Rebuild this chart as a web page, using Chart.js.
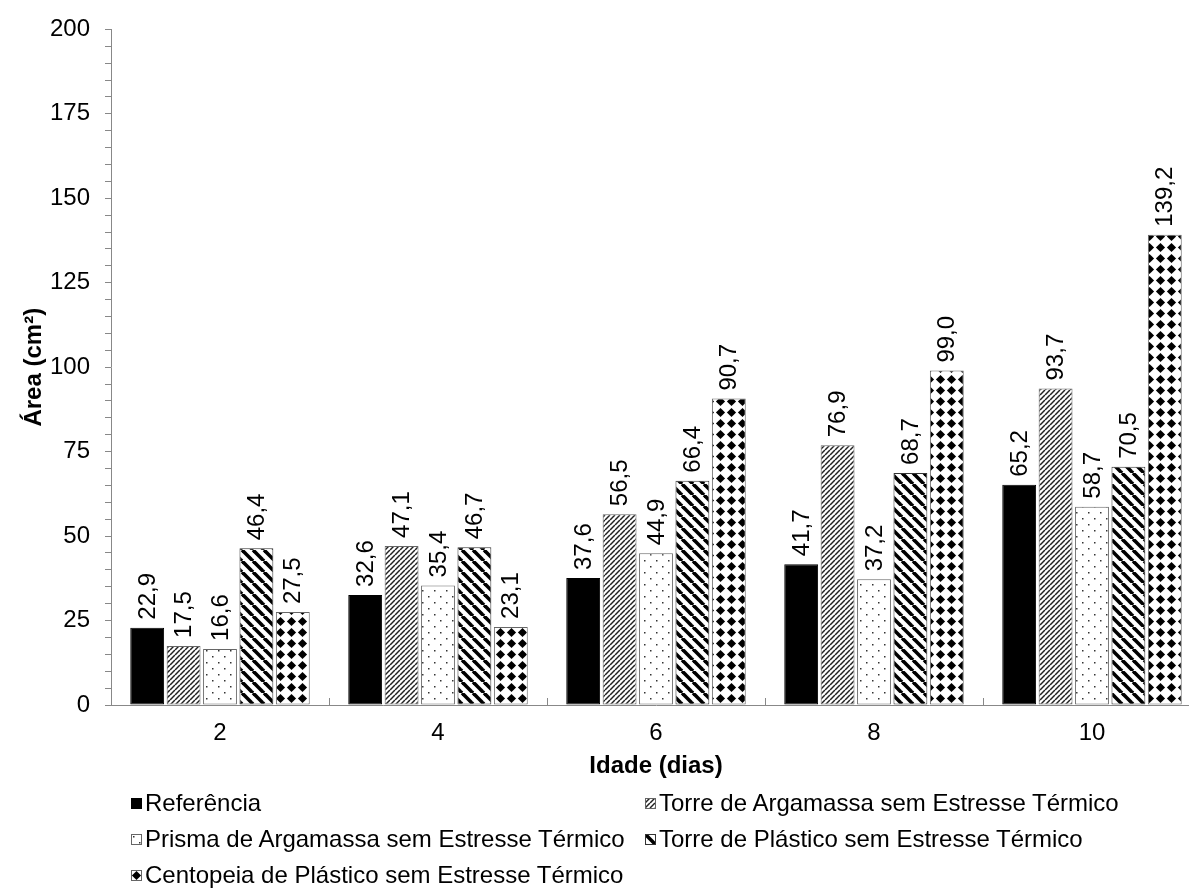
<!DOCTYPE html>
<html lang="pt">
<head>
<meta charset="utf-8">
<title>Área x Idade</title>
<script src="https://cdn.jsdelivr.net/npm/chart.js@4.4.0/dist/chart.umd.min.js"></script>
<style>
  html, body { margin: 0; padding: 0; background: #fff; overflow: hidden; }
  #wrap { position: relative; width: 1189px; height: 890px; overflow: hidden; }
  #areaChart { position: absolute; left: 0; top: 0; }
  #legend {
    position: absolute; left: 131px; top: 785px;
    display: grid; grid-template-columns: 514px auto; grid-auto-rows: 36px;
    font-family: Arial, "Liberation Sans", sans-serif; font-size: 24px; color: #000;
  }
  #legend .item { display: flex; align-items: center; white-space: nowrap; }
  #legend canvas { margin-right: 3px; }
</style>
</head>
<body>
<div id="wrap">
  <canvas id="areaChart" width="1215" height="790"></canvas>
  <div id="legend"></div>
</div>
<script>
// Idade (dias) and the area measured for each specimen
const idades = ['2', '4', '6', '8', '10'];
const seriesNames = [
  'Referência',
  'Torre de Argamassa sem Estresse Térmico',
  'Prisma de Argamassa sem Estresse Térmico',
  'Torre de Plástico sem Estresse Térmico',
  'Centopeia de Plástico sem Estresse Térmico'
];
const referencia        = [22.9, 32.6, 37.6, 41.7, 65.2];
const torreArgamassa    = [17.5, 47.1, 56.5, 76.9, 93.7];
const prismaArgamassa   = [16.6, 35.4, 44.9, 37.2, 58.7];
const torrePlastico     = [46.4, 46.7, 66.4, 68.7, 70.5];
const centopeiaPlastico = [27.5, 23.1, 90.7, 99.0, 139.2];
const yMax = 200;
const yMajorStep = 25;
const yMinorStep = 5;

const FONT = 'Arial, "Liberation Sans", sans-serif';
const FONT_SIZE = 24;

// --- hatch tiles, one per series ---
function makeTile(size, draw) {
    const c = document.createElement('canvas');
    c.width = c.height = size;
    const g = c.getContext('2d');
    g.fillStyle = '#fff';
    g.fillRect(0, 0, size, size);
    draw(g, size);
    return c;
}

const tiles = [
    null, // solid black
    makeTile(5, (g, s) => {   // fine "/" hatch
        g.strokeStyle = '#222';
        g.lineWidth = 1.5;
        for (const o of [-s, 0, s]) {
            g.beginPath(); g.moveTo(o, s); g.lineTo(o + s, 0); g.stroke();
        }
    }),
    makeTile(12, (g) => {     // sparse dots
        g.fillStyle = '#333';
        g.fillRect(2, 2, 1.5, 1.5);
        g.fillRect(8, 8, 1.5, 1.5);
    }),
    makeTile(11, (g, s) => {  // wide "\" stripes
        g.strokeStyle = '#000';
        g.lineWidth = 3.6;
        for (const o of [-s, 0, s]) {
            g.beginPath(); g.moveTo(o, 0); g.lineTo(o + s, s); g.stroke();
        }
    }),
    makeTile(11, (g, s) => {  // diamonds
        g.fillStyle = '#000';
        const m = s / 2, r = 4.6;
        g.beginPath();
        g.moveTo(m, m - r); g.lineTo(m + r, m); g.lineTo(m, m + r); g.lineTo(m - r, m);
        g.closePath(); g.fill();
    })
];

const ctx = document.getElementById('areaChart').getContext('2d');
const fills = tiles.map(t => t ? ctx.createPattern(t, 'repeat') : '#000');
const borders = ['#000', '#666', '#666', '#333', '#666'];
const seriesData = [referencia, torreArgamassa, prismaArgamassa, torrePlastico, centopeiaPlastico];

function fmt(v) {
    return v.toFixed(1).replace('.', ',');
}

// value written vertically above each bar
const barValueLabels = {
    id: 'barValueLabels',
    afterDatasetsDraw(chart) {
        const c = chart.ctx;
        c.save();
        c.font = FONT_SIZE + 'px ' + FONT;
        c.fillStyle = '#000';
        c.textAlign = 'left';
        c.textBaseline = 'middle';
        chart.data.datasets.forEach((ds, i) => {
            chart.getDatasetMeta(i).data.forEach((bar, j) => {
                c.save();
                c.translate(bar.x + 1, bar.y - 8);
                c.rotate(-Math.PI / 2);
                c.fillText(fmt(ds.data[j]), 0, 0);
                c.restore();
            });
        });
        c.restore();
    }
};

// short inward tick marks between the day groups
const categoryTicks = {
    id: 'categoryTicks',
    afterDraw(chart) {
        const x = chart.scales.x;
        const bottom = chart.chartArea.bottom;
        const half = (x.getPixelForValue(1) - x.getPixelForValue(0)) / 2;
        const c = chart.ctx;
        c.save();
        c.strokeStyle = '#888';
        c.lineWidth = 1;
        for (let i = 0; i <= idades.length; i++) {
            const px = Math.round(x.getPixelForValue(i) - half) + 0.5;
            c.beginPath();
            c.moveTo(px, bottom);
            c.lineTo(px, bottom - 7);
            c.stroke();
        }
        c.restore();
    }
};

Chart.defaults.font.family = FONT;
Chart.defaults.font.size = FONT_SIZE;
Chart.defaults.color = '#000';

new Chart(ctx, {
    type: 'bar',
    data: {
        labels: idades,
        datasets: seriesNames.map((name, i) => ({
            label: name,
            data: seriesData[i],
            backgroundColor: fills[i],
            borderColor: borders[i],
            borderWidth: 1,
            borderSkipped: false,
            categoryPercentage: 0.835,
            barPercentage: 0.93
        }))
    },
    options: {
        responsive: false,
        animation: false,
        events: [],
        layout: { padding: { top: 25, right: 14, left: 0, bottom: 0 } },
        plugins: {
            legend: { display: false },
            tooltip: { enabled: false }
        },
        scales: {
            x: {
                grid: { drawOnChartArea: false, drawTicks: false },
                border: { color: '#888', width: 1 },
                ticks: { padding: 14 },
                title: {
                    display: true,
                    text: 'Idade (dias)',
                    font: { size: 24, weight: 'bold' },
                    padding: { top: 0, bottom: 9 }
                },
                afterFit(scale) { scale.height = 85; }
            },
            y: {
                min: 0,
                max: yMax,
                grid: { drawOnChartArea: false, color: '#888', tickLength: 6 },
                border: { color: '#888', width: 1 },
                ticks: {
                    stepSize: yMinorStep,
                    autoSkip: false,
                    maxTicksLimit: 100,
                    padding: 15,
                    callback: v => (v % yMajorStep === 0 ? String(v) : '')
                },
                title: {
                    display: true,
                    text: 'Área (cm²)',
                    font: { size: 24, weight: 'bold' },
                    padding: { top: 20, bottom: 0 }
                },
                afterFit(scale) { scale.width = 111; }
            }
        }
    },
    plugins: [barValueLabels, categoryTicks]
});

// legend, two columns below the chart
const legendBox = document.getElementById('legend');
seriesNames.forEach((name, i) => {
    const item = document.createElement('div');
    item.className = 'item';
    const sw = document.createElement('canvas');
    sw.width = 11; sw.height = 11;
    const g = sw.getContext('2d');
    g.fillStyle = tiles[i] ? g.createPattern(tiles[i], 'repeat') : '#000';
    g.fillRect(0, 0, 11, 11);
    g.strokeStyle = borders[i];
    g.lineWidth = 1;
    g.strokeRect(0.5, 0.5, 10, 10);
    const txt = document.createElement('span');
    txt.textContent = name;
    item.appendChild(sw);
    item.appendChild(txt);
    legendBox.appendChild(item);
});
</script>
</body>
</html>
